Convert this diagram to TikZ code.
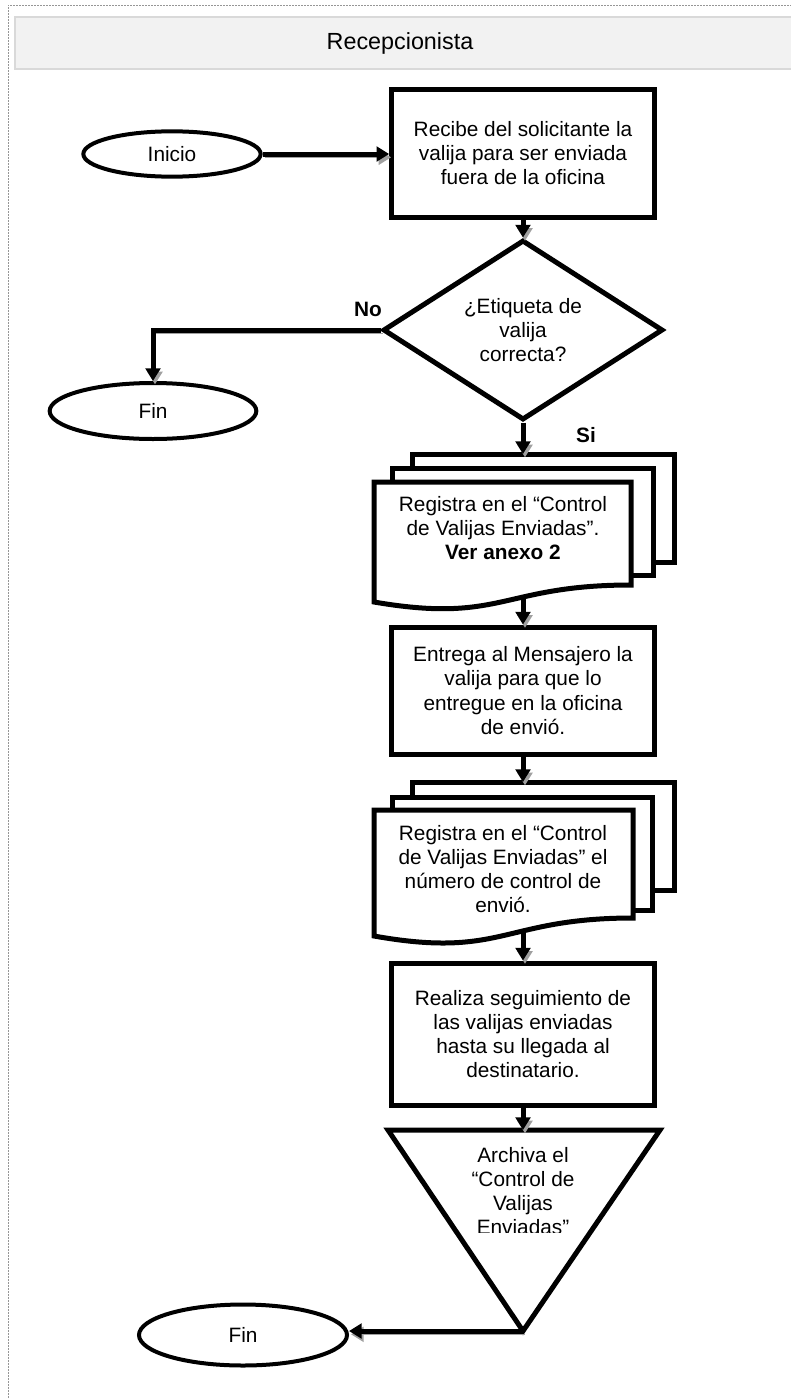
\documentclass[tikz,border=0pt]{standalone}
\usepackage{fontspec}
\setmainfont{Liberation Sans}
\usetikzlibrary{arrows.meta,shapes.geometric}

\definecolor{laneline}{RGB}{150,150,150}
\definecolor{headfill}{RGB}{242,242,242}
\definecolor{headline}{RGB}{217,217,217}
\definecolor{shadowgray}{RGB}{160,160,160}

\newcommand{\flowfont}{\fontsize{15.6pt}{18.2pt}\selectfont}

\tikzset{every picture/.style={line width=0.75pt}}
\tikzset{
  shapeline/.style={line width=3.75pt},
  proc/.style={draw, shapeline, rectangle, fill=white, minimum width=197pt, inner sep=0pt, align=center, font=\flowfont},
  terminal/.style={draw, ellipse, line width=3pt, fill=white, inner sep=0pt, font=\flowfont},
  decision/.style={draw, diamond, shapeline, aspect=1.556, minimum width=210pt, minimum height=135pt, inner sep=0pt, align=center, font=\flowfont},
  txt/.style={align=center, inner sep=0pt, font=\flowfont},
  lbl/.style={inner sep=0pt, font=\flowfont\bfseries},
  flow/.style={line width=3.75pt, -{Triangle[width=11pt,length=9.5pt]},
    preaction={draw=shadowgray, transform canvas={xshift=1.5pt,yshift=-2.5pt}}}
}

\begin{document}
\begin{tikzpicture}[x=0.75pt,y=0.75pt,yscale=-1,xscale=1]
	\useasboundingbox (0,0) rectangle (791,1399);
	\clip (0,0) rectangle (791,1399);

	%Lane border
	\draw [laneline, dash pattern=on 1.5pt off 0.75pt] (8,1410) -- (8,5) -- (800,5) ;
	%Shape: Rectangle (lane header)
	\draw [draw=headline, fill=headfill, line width=1.5pt] (15,17) rectangle (800,69) ;
	% Text Node
	\draw (400,43) node [font=\fontsize{17.5pt}{20pt}\selectfont] (lane) {Recepcionista};

	% Terminal
	\draw (172,154) node [terminal, minimum width=133pt, minimum height=34pt] (inicio) {Inicio};
	% Process
	\draw (523,153) node [proc, minimum height=96pt] (recibe) {Recibe del solicitante la\\valija para ser enviada\\fuera de la oficina};
	% Decision
	\draw (523,330) node [decision] (etiqueta) {¿Etiqueta de\\valija\\correcta?};
	% Terminal
	\draw (153,411) node [terminal, minimum width=155pt, minimum height=42pt] (fin1) {Fin};
	% Text Node
	\draw (368,309) node [lbl] (no) {No};
	% Text Node
	\draw (586,435) node [lbl] (si) {Si};

	%Shape: Multidocument 1
	\draw [shapeline, fill=white] (412,454) rectangle (674,562) ;
	\draw [shapeline, fill=white] (392,468) rectangle (653,575) ;
	\draw [shapeline, fill=white] (374,482) -- (631,482) -- (631,585) .. controls (502,585) and (502,624) .. (374,602) -- cycle ;
	\coordinate (doc1in) at (523,454);
	\coordinate (doc1out) at (523,596);
	% Text Node
	\draw (503,528) node [txt] (registra1) {Registra en el “Control\\de Valijas Enviadas”.\\\textbf{Ver anexo 2}};

	% Process
	\draw (523,690.5) node [proc, minimum height=95.25pt] (entrega) {Entrega al Mensajero la\\valija para que lo\\entregue en la oficina\\de envió.};

	%Shape: Multidocument 2
	\draw [shapeline, fill=white] (412,782) rectangle (674,890) ;
	\draw [shapeline, fill=white] (392,797) rectangle (652,910) ;
	\draw [shapeline, fill=white] (374,810) -- (633,810) -- (633,918) .. controls (503,918) and (503,959) .. (374,936) -- cycle ;
	\coordinate (doc2in) at (523,782);
	\coordinate (doc2out) at (523,930);
	% Text Node
	\draw (503,869) node [txt] (registra2) {Registra en el “Control\\de Valijas Enviadas” el\\número de control de\\envió.};

	% Process
	\draw (523,1034) node [proc, minimum height=106.5pt] (realiza) {Realiza seguimiento de\\las valijas enviadas\\hasta su llegada al\\destinatario.};

	%Shape: Triangle (archive)
	\draw [shapeline, fill=white] (388,1130) -- (660,1130) -- (523,1331) -- cycle ;
	\coordinate (archin) at (523,1130);
	\coordinate (archout) at (523,1331);
	\begin{scope}
	\clip (388,1136) rectangle (660,1232);
	% Text Node
	\draw (523,1191) node [txt] (archiva) {Archiva el\\“Control de\\Valijas\\Enviadas”};
	\end{scope}

	% Terminal
	\draw (243,1335) node [terminal, minimum width=156pt, minimum height=45.75pt] (fin2) {Fin};

	% Connectors
	\draw [flow] (inicio.east) -- (inicio.east -| recibe.west) ;
	\draw [flow] (recibe.south) -- (etiqueta.north) ;
	\draw [flow] (etiqueta.west) -| (fin1.north) ;
	\draw [flow] (etiqueta.south) -- (doc1in) ;
	\draw [flow] (doc1out) -- (entrega.north) ;
	\draw [flow] (entrega.south) -- (doc2in) ;
	\draw [flow] (doc2out) -- (realiza.north) ;
	\draw [flow] (realiza.south) -- (archin) ;
	\draw [flow] (archout) -- (archout -| fin2.east) ;

\end{tikzpicture}
\end{document}
